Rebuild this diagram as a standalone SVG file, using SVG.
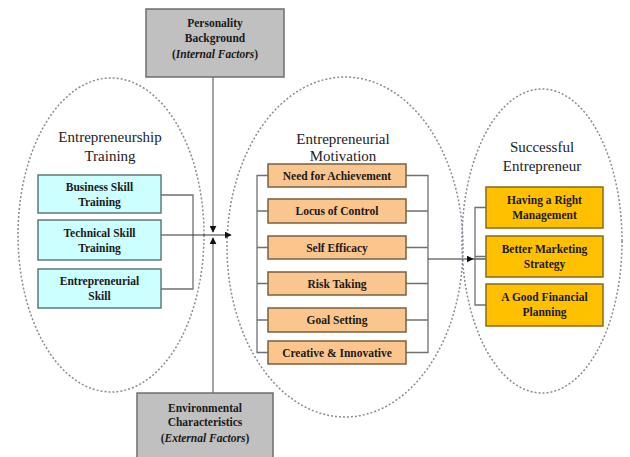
<svg xmlns="http://www.w3.org/2000/svg" width="630" height="457" viewBox="0 0 630 457">
<defs>
<style>
.ell{fill:none;stroke:#8a8a9a;stroke-width:1.5;stroke-dasharray:2 2}
.gray{fill:#c0c0c0;stroke:#6e6e6e;stroke-width:1.5}
.cyan{fill:#ccffff;stroke:#5f7a7a;stroke-width:1.5}
.org{fill:#fbc58e;stroke:#7a6040;stroke-width:1.5}
.yel{fill:#ffc000;stroke:#8a6a10;stroke-width:1.5}
.t{font-family:"Liberation Serif","Times New Roman",serif;font-size:11.5px;font-weight:bold;fill:#1a1a1a;text-anchor:middle}
.h{font-family:"Liberation Serif","Times New Roman",serif;font-size:15px;fill:#222;text-anchor:middle}
.ln{fill:none;stroke:#707070;stroke-width:1.3}
.lk{fill:none;stroke:#333;stroke-width:1.2}
</style>
<marker id="ar" viewBox="0 0 10 10" refX="9" refY="5" markerWidth="7" markerHeight="7" orient="auto" markerUnits="userSpaceOnUse"><path d="M0,0 L10,5 L0,10 z" fill="#111"/></marker>
</defs>
<g id="ellipses">
<ellipse class="ell" cx="111" cy="235" rx="93" ry="157"/>
<ellipse class="ell" cx="345" cy="247" rx="118" ry="170"/>
<ellipse class="ell" cx="542" cy="241" rx="80" ry="152"/>
</g>
<g id="connectors">
<path class="ln" d="M213,77 V232" marker-end="url(#ar)"/>
<path class="ln" d="M213,393 V238" marker-end="url(#ar)"/>
<path class="ln" d="M161,195 H193 V289 H161"/>
<path class="lk" d="M161,235 H231" marker-end="url(#ar)"/>
<path class="ln" d="M268,175.5 H257 V352.5 H268 M257,211 H268 M257,247.5 H268 M257,283.5 H268 M257,320 H268"/>
<path class="ln" d="M406,175.5 H428 V352.5 H406 M406,211 H428 M406,247.5 H428 M406,283.5 H428 M406,320 H428"/>
<path class="lk" d="M428,259 H473" marker-end="url(#ar)"/>
<path class="lk" d="M473,259 H486"/>
<path class="ln" d="M486,207.5 H475 V305 H486 M475,256.5 H486"/>
</g>
<g id="personality">
<rect class="gray" x="146" y="9" width="138" height="68"/>
<text class="t" x="215" y="27">Personality</text>
<text class="t" x="215" y="42">Background</text>
<text class="t" x="215" y="58">(<tspan font-style="italic">Internal Factors</tspan>)</text>
</g>
<g id="environmental">
<rect class="gray" x="137" y="393" width="136" height="66"/>
<text class="t" x="205" y="412">Environmental</text>
<text class="t" x="205" y="426">Characteristics</text>
<text class="t" x="205" y="442">(<tspan font-style="italic">External Factors</tspan>)</text>
</g>
<g id="training">
<text class="h" x="110" y="142">Entrepreneurship</text>
<text class="h" x="110" y="161">Training</text>
</g>
<g id="business-skill">
<rect class="cyan" x="38" y="175" width="123" height="38"/>
<text class="t" x="99.5" y="191">Business Skill</text>
<text class="t" x="99.5" y="206">Training</text>
</g>
<g id="technical-skill">
<rect class="cyan" x="38" y="220" width="123" height="40"/>
<text class="t" x="99.5" y="237">Technical Skill</text>
<text class="t" x="99.5" y="252">Training</text>
</g>
<g id="entrepreneurial-skill">
<rect class="cyan" x="38" y="269" width="123" height="39"/>
<text class="t" x="99.5" y="285">Entrepreneurial</text>
<text class="t" x="99.5" y="300">Skill</text>
</g>
<g id="motivation">
<text class="h" x="343" y="144">Entrepreneurial</text>
<text class="h" x="343" y="161">Motivation</text>
</g>
<g id="need-achievement">
<rect class="org" x="268" y="164" width="138" height="23"/>
<text class="t" x="337" y="179.5">Need for Achievement</text>
</g>
<g id="locus-control">
<rect class="org" x="268" y="199" width="138" height="24"/>
<text class="t" x="337" y="215">Locus of Control</text>
</g>
<g id="self-efficacy">
<rect class="org" x="268" y="236" width="138" height="23"/>
<text class="t" x="337" y="251.5">Self Efficacy</text>
</g>
<g id="risk-taking">
<rect class="org" x="268" y="272" width="138" height="23"/>
<text class="t" x="337" y="287.5">Risk Taking</text>
</g>
<g id="goal-setting">
<rect class="org" x="268" y="308" width="138" height="24"/>
<text class="t" x="337" y="324">Goal Setting</text>
</g>
<g id="creative">
<rect class="org" x="268" y="341" width="138" height="23"/>
<text class="t" x="337" y="356.5">Creative &amp; Innovative</text>
</g>
<g id="successful">
<text class="h" x="542" y="152">Successful</text>
<text class="h" x="542" y="171">Entrepreneur</text>
</g>
<g id="right-management">
<rect class="yel" x="486" y="187" width="117" height="41"/>
<text class="t" x="544.5" y="204">Having a Right</text>
<text class="t" x="544.5" y="219">Management</text>
</g>
<g id="marketing">
<rect class="yel" x="486" y="236" width="117" height="41"/>
<text class="t" x="544.5" y="253">Better Marketing</text>
<text class="t" x="544.5" y="268">Strategy</text>
</g>
<g id="financial">
<rect class="yel" x="486" y="284" width="117" height="42"/>
<text class="t" x="544.5" y="301">A Good Financial</text>
<text class="t" x="544.5" y="316">Planning</text>
</g>
</svg>
